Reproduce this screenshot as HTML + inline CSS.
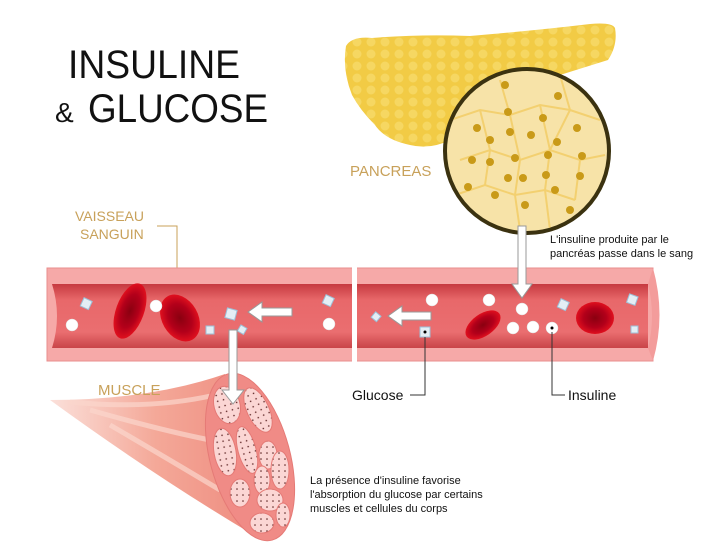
<!DOCTYPE html>
<html><head><meta charset="utf-8"><style>
html,body{margin:0;padding:0;background:#fff;}
svg{display:block;}
text{font-family:"Liberation Sans",sans-serif;}
</style></head><body>
<svg width="728" height="560" viewBox="0 0 728 560" xmlns="http://www.w3.org/2000/svg">
<defs>
<radialGradient id="rbc" cx="50%" cy="50%" r="50%"><stop offset="0" stop-color="#8a0010"/><stop offset="0.6" stop-color="#b3001a"/><stop offset="1" stop-color="#e0101e"/></radialGradient>
<linearGradient id="lumen" x1="0" y1="0" x2="0" y2="1"><stop offset="0" stop-color="#c63a40"/><stop offset="0.25" stop-color="#e8686a"/><stop offset="0.75" stop-color="#ea6e70"/><stop offset="1" stop-color="#c94448"/></linearGradient>
<linearGradient id="cone" x1="0" y1="0" x2="1" y2="0"><stop offset="0" stop-color="#fbe0da"/><stop offset="0.5" stop-color="#f4a898"/><stop offset="1" stop-color="#ee8a7e"/></linearGradient>
<pattern id="bump" width="14" height="12" patternUnits="userSpaceOnUse"><rect width="14" height="12" fill="#f2cb45"/><circle cx="7" cy="6" r="4.5" fill="#f6d762"/></pattern>
<pattern id="dots" width="6" height="6" patternUnits="userSpaceOnUse"><rect width="6" height="6" fill="#fbd6d4"/><circle cx="3" cy="3" r="0.8" fill="#5a2020"/></pattern>
<clipPath id="cc"><circle cx="527" cy="151" r="80"/></clipPath>
</defs>
<text x="68" y="78" font-size="40" fill="#111" textLength="172" lengthAdjust="spacingAndGlyphs">INSULINE</text>
<text x="55" y="122" font-size="28" fill="#111">&amp;</text>
<text x="88" y="122" font-size="40" fill="#111" textLength="180" lengthAdjust="spacingAndGlyphs">GLUCOSE</text>
<path d="M346 46 Q352 36 372 38 Q420 34 470 36 Q540 30 590 24 Q612 22 615 28 Q618 45 608 60 L560 75 Q480 95 450 140 Q430 150 410 145 Q385 140 375 125 Q360 110 352 95 Q342 70 346 46Z" fill="url(#bump)"/>
<circle cx="527" cy="151" r="82" fill="#f7e3a8" stroke="#3b3210" stroke-width="4"/>
<g clip-path="url(#cc)" fill="#c99a18">
<g fill="none" stroke="#f3d070" stroke-width="2">
<path d="M450 120 L480 110 L510 115 L540 105 L570 110 L600 120 M460 160 L490 150 L520 160 L550 150 L580 160 L605 155 M455 195 L485 185 L515 195 L545 190 L575 200 M500 80 L510 115 L520 160 L515 195 L520 230 M560 75 L570 110 L550 150 L545 190 L550 230 M480 110 L490 150 L485 185 M540 105 L550 150 M580 160 L575 200"/>
</g>
<circle cx="505" cy="85" r="4"/><circle cx="558" cy="96" r="4"/><circle cx="508" cy="112" r="4"/><circle cx="543" cy="118" r="4"/><circle cx="477" cy="128" r="4"/><circle cx="510" cy="132" r="4"/><circle cx="531" cy="135" r="4"/><circle cx="577" cy="128" r="4"/><circle cx="490" cy="140" r="4"/><circle cx="557" cy="142" r="4"/><circle cx="472" cy="160" r="4"/><circle cx="490" cy="162" r="4"/><circle cx="515" cy="158" r="4"/><circle cx="548" cy="155" r="4"/><circle cx="582" cy="156" r="4"/><circle cx="508" cy="178" r="4"/><circle cx="523" cy="178" r="4"/><circle cx="546" cy="175" r="4"/><circle cx="580" cy="176" r="4"/><circle cx="468" cy="187" r="4"/><circle cx="495" cy="195" r="4"/><circle cx="555" cy="190" r="4"/><circle cx="525" cy="205" r="4"/><circle cx="570" cy="210" r="4"/>
</g>
<text x="350" y="176" font-size="15" fill="#c8a15a">PANCREAS</text>
<text x="75" y="221" font-size="14" fill="#c8a15a">VAISSEAU</text>
<text x="80" y="239" font-size="14" fill="#c8a15a">SANGUIN</text>
<path d="M157 226 L177 226 L177 270" stroke="#c8a15a" fill="none"/>
<rect x="47" y="268" width="606" height="93" fill="#f6a9a8" stroke="#e88e8e"/>
<rect x="52" y="284" width="596" height="64" fill="url(#lumen)"/>
<path d="M52 284 Q62 316 52 348" fill="#f6a9a8"/>
<path d="M653 268 Q666 315 653 361 L648 348 Q656 316 648 284Z" fill="#f39c9b"/>
<rect x="352" y="262" width="5" height="104" fill="#fff"/>
<ellipse cx="130" cy="311" rx="14" ry="29" transform="rotate(20 130 311)" fill="url(#rbc)"/>
<ellipse cx="180" cy="318" rx="18" ry="25" transform="rotate(-30 180 318)" fill="url(#rbc)"/>
<ellipse cx="483" cy="325" rx="11" ry="20" transform="rotate(55 483 325)" fill="url(#rbc)"/>
<ellipse cx="595" cy="318" rx="19" ry="16" fill="url(#rbc)"/>
<g fill="#fff" stroke="#ddd" stroke-width="0.5">
<circle cx="72" cy="325" r="6"/><circle cx="156" cy="306" r="6"/><circle cx="329" cy="324" r="6"/><circle cx="432" cy="300" r="6"/><circle cx="489" cy="300" r="6"/><circle cx="522" cy="309" r="6"/><circle cx="513" cy="328" r="6"/><circle cx="533" cy="327" r="6"/><circle cx="552" cy="328" r="6"/>
</g>
<circle cx="552" cy="328" r="1.5" fill="#000"/>
<g fill="#e4eef5" stroke="#9cc0d8" stroke-width="1">
<rect x="82" y="299" width="9" height="9" transform="rotate(25 86 303)"/><rect x="226" y="309" width="10" height="10" transform="rotate(15 231 314)"/><rect x="206" y="326" width="8" height="8"/><rect x="239" y="326" width="7" height="7" transform="rotate(30 242 329)"/><rect x="324" y="296" width="9" height="9" transform="rotate(25 328 300)"/><rect x="373" y="313" width="7" height="7" transform="rotate(40 376 316)"/><rect x="420" y="327" width="10" height="10"/><rect x="559" y="300" width="9" height="9" transform="rotate(25 563 304)"/><rect x="628" y="295" width="9" height="9" transform="rotate(20 632 299)"/><rect x="631" y="326" width="7" height="7"/>
</g>
<circle cx="425" cy="332" r="1.5" fill="#000"/>
<g fill="#fff" stroke="#999" stroke-width="1">
<path d="M248 312 L262 302 L262 308 L292 308 L292 316 L262 316 L262 322Z"/>
<path d="M388 316 L402 306 L402 312 L431 312 L431 320 L402 320 L402 326Z"/>
<path d="M518 226 L526 226 L526 284 L532 284 L522 298 L512 284 L518 284Z"/>
</g>
<path d="M50 400 Q150 400 225 374 L262 540 Q160 480 50 400Z" fill="url(#cone)"/>
<path d="M70 402 Q150 410 215 395 M90 410 Q160 430 210 440 M110 425 Q170 460 220 490" stroke="#fbd5cc" stroke-width="5" fill="none" opacity="0.7"/>
<ellipse cx="250" cy="457" rx="40" ry="86" transform="rotate(-15 250 457)" fill="#f08b86" stroke="#e57a76"/>
<g fill="url(#dots)" stroke="#e57a76">
<ellipse cx="227" cy="405" rx="13" ry="19" transform="rotate(-15 227 405)"/>
<ellipse cx="258" cy="410" rx="11" ry="24" transform="rotate(-25 258 410)"/>
<ellipse cx="225" cy="452" rx="11" ry="24" transform="rotate(-10 225 452)"/>
<ellipse cx="247" cy="450" rx="9" ry="24" transform="rotate(-15 247 450)"/>
<ellipse cx="268" cy="455" rx="9" ry="14"/>
<ellipse cx="280" cy="470" rx="9" ry="19"/>
<ellipse cx="262" cy="480" rx="8" ry="14"/>
<ellipse cx="240" cy="493" rx="10" ry="14"/>
<ellipse cx="270" cy="500" rx="13" ry="11"/>
<ellipse cx="262" cy="523" rx="12" ry="10"/>
<ellipse cx="283" cy="515" rx="7" ry="12"/>
</g>
<path d="M229 330 L237 330 L237 390 L244 390 L233 404 L222 390 L229 390Z" fill="#fff" stroke="#999"/>
<text x="98" y="395" font-size="15" fill="#c8a15a">MUSCLE</text>
<path d="M425 337 L425 395 L410 395" stroke="#333" fill="none"/>
<text x="352" y="400" font-size="14" fill="#111">Glucose</text>
<path d="M552 332 L552 395 L565 395" stroke="#333" fill="none"/>
<text x="568" y="400" font-size="14" fill="#111">Insuline</text>
<text x="550" y="243" font-size="11" fill="#111">L'insuline produite par le</text>
<text x="550" y="257" font-size="11" fill="#111">pancréas passe dans le sang</text>
<text x="310" y="484" font-size="11" fill="#111">La présence d'insuline favorise</text>
<text x="310" y="498" font-size="11" fill="#111">l'absorption du glucose par certains</text>
<text x="310" y="512" font-size="11" fill="#111">muscles et cellules du corps</text>
</svg>
</body></html>
